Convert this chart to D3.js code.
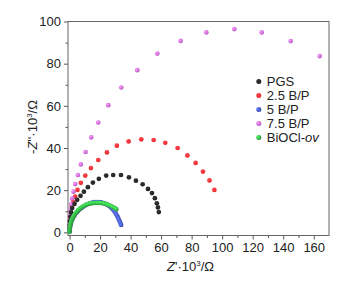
<!DOCTYPE html>
<html>
<head>
<meta charset="utf-8">
<script src="https://cdn.jsdelivr.net/npm/d3@7"></script>
<style>
  body { margin: 0; background: #fff; }
  svg { font-family: "Liberation Sans", Arial, sans-serif; }
</style>
</head>
<body>
<div id="chart"></div>
<script>
// Nyquist plots, values (x: Z' 10^3 ohm, y: -Z'' 10^3 ohm)
const pgsX = [0, 0.1, 0.3, 0.6, 1.0, 1.7, 3.3, 5.0, 7.2, 9.4, 12.0, 15.3, 19.2, 24.0, 28.6, 33.7, 38.9, 43.5, 47.9, 51.4, 54.0, 55.9, 57.2, 57.9, 58.5];
const pgsY = [1.5, 3.5, 5.5, 7.5, 9.5, 11.5, 13.5, 15.4, 17.3, 19.3, 21.4, 23.6, 25.4, 26.9, 27.2, 27.2, 26.1, 24.5, 22.8, 20.6, 18.6, 16.2, 13.8, 11.8, 9.6];

const bp25X = [0, 0, 0.2, 0.4, 0.9, 1.5, 2.4, 3.7, 5.2, 7.4, 10.3, 14.0, 18.8, 24.5, 31.0, 38.7, 47.0, 55.1, 62.7, 70.8, 77.2, 82.6, 87.4, 91.7, 94.9];
const bp25Y = [0.8, 2.7, 5.1, 7.4, 9.6, 12.2, 14.4, 16.9, 20.1, 23.5, 26.9, 30.5, 34.3, 37.9, 41.1, 43.1, 44.1, 43.8, 42.5, 40.0, 36.5, 32.9, 28.8, 24.6, 20.1];

const bp5X = [0, 0.1, 0.2, 0.5, 0.9, 1.4, 2.0, 2.7, 3.5, 4.5, 5.5, 6.7, 7.9, 9.2, 10.5, 11.9, 13.3, 14.8, 16.3, 17.8, 19.3, 20.8, 22.2, 23.6, 24.9, 26.1, 27.3, 28.3, 29.3, 30.2, 31.0, 31.7, 32.3, 32.9, 33.4, 33.8];
const bp5Y = [0.3, 1.0, 2.0, 3.2, 4.4, 5.5, 6.5, 7.5, 8.4, 9.3, 10.1, 10.9, 11.6, 12.3, 12.9, 13.4, 13.8, 14.1, 14.3, 14.4, 14.4, 14.2, 13.9, 13.5, 13.0, 12.4, 11.7, 10.9, 10.0, 9.1, 8.1, 7.1, 6.1, 5.1, 4.2, 3.5];

const bp75X = [0, 0, 0.2, 0.4, 0.7, 1.1, 1.7, 2.6, 3.7, 5.5, 7.4, 10.5, 14.2, 18.8, 25.4, 33.9, 44.4, 57.5, 72.8, 89.6, 108.0, 125.9, 144.9, 163.9];
const bp75Y = [0.8, 3.0, 5.5, 8.2, 10.9, 13.4, 16.1, 19.3, 22.9, 27.2, 32.2, 38.1, 45.0, 52.1, 60.3, 68.7, 76.9, 84.8, 90.8, 94.8, 96.4, 94.8, 90.7, 83.6];

const ovX = [0, 0.1, 0.3, 0.5, 0.8, 1.2, 1.7, 2.3, 3.0, 3.8, 4.7, 5.7, 6.8, 8.0, 9.3, 10.7, 12.1, 13.6, 15.1, 16.6, 18.1, 19.6, 21.1, 22.6, 24.0, 25.4, 26.8, 28.1, 29.4, 30.6];
const ovY = [0.3, 1.2, 2.2, 3.2, 4.2, 5.2, 6.2, 7.1, 8.0, 8.9, 9.7, 10.5, 11.2, 11.9, 12.5, 13.0, 13.4, 13.7, 13.9, 14.0, 14.0, 14.0, 13.9, 13.7, 13.4, 13.0, 12.6, 12.1, 11.6, 11.0];

const seriesNames = ["PGS", "2.5 B/P", "5 B/P", "7.5 B/P", "BiOCl-ov"];
const seriesColors = ["#1e1e1e", "#e8282c", "#3848ac", "#b858c4", "#2a9138"];
const xTicks = [0, 20, 40, 60, 80, 100, 120, 140, 160];
const yTicks = [0, 20, 40, 60, 80, 100];

const series = [
  { name: seriesNames[0], color: seriesColors[0], x: pgsX, y: pgsY },
  { name: seriesNames[1], color: seriesColors[1], x: bp25X, y: bp25Y },
  { name: seriesNames[2], color: seriesColors[2], x: bp5X, y: bp5Y },
  { name: seriesNames[3], color: seriesColors[3], x: bp75X, y: bp75Y },
  { name: seriesNames[4], color: seriesColors[4], x: ovX, y: ovY }
];

const width = 341, height = 282;
const margin = { top: 21.5, right: 12, bottom: 46.5, left: 68 };
const innerW = width - margin.left - margin.right;
const innerH = height - margin.top - margin.bottom;

const svg = d3.select("#chart").append("svg")
  .attr("width", width)
  .attr("height", height);

// sphere-like markers
const defs = svg.append("defs");
series.forEach((s, i) => {
  const g = defs.append("radialGradient")
    .attr("id", "ball" + i)
    .attr("cx", "35%").attr("cy", "35%").attr("r", "65%");
  g.append("stop").attr("offset", "0%").attr("stop-color", d3.color(s.color).brighter(1.6));
  g.append("stop").attr("offset", "100%").attr("stop-color", s.color);
});

const chart = svg.append("g")
  .attr("transform", `translate(${margin.left},${margin.top})`);

const x = d3.scaleLinear().domain([-1, 170]).range([0, innerW]);
const y = d3.scaleLinear().domain([-1.5, 100]).range([innerH, 0]);

// minor ticks
chart.append("g")
  .attr("transform", `translate(0,${innerH})`)
  .call(d3.axisBottom(x).tickValues(d3.range(10, 170, 20)).tickSize(2.5).tickFormat(""))
  .call(g => g.select(".domain").remove())
  .call(g => g.selectAll("line").attr("stroke", "#555"));
chart.append("g")
  .call(d3.axisLeft(y).tickValues(d3.range(10, 100, 20)).tickSize(2.5).tickFormat(""))
  .call(g => g.select(".domain").remove())
  .call(g => g.selectAll("line").attr("stroke", "#555"));

// major ticks
chart.append("g")
  .attr("transform", `translate(0,${innerH})`)
  .call(d3.axisBottom(x).tickValues(xTicks).tickSize(4).tickPadding(3))
  .call(g => g.select(".domain").remove())
  .call(g => g.selectAll("line").attr("stroke", "#555"))
  .call(g => g.selectAll("text").attr("fill", "#222").style("font-size", "13px").style("font-family", "Liberation Sans, Arial, sans-serif"));
chart.append("g")
  .call(d3.axisLeft(y).tickValues(yTicks).tickSize(4).tickPadding(3))
  .call(g => g.select(".domain").remove())
  .call(g => g.selectAll("line").attr("stroke", "#555"))
  .call(g => g.selectAll("text").attr("fill", "#222").style("font-size", "13px").style("font-family", "Liberation Sans, Arial, sans-serif"));

// frame
chart.append("rect")
  .attr("width", innerW)
  .attr("height", innerH)
  .attr("fill", "none")
  .attr("stroke", "#666")
  .attr("stroke-width", 1);

// points
const drawOrder = [1, 3, 0, 2, 4];
drawOrder.forEach(i => {
  const s = series[i];
  chart.append("g").selectAll("circle")
    .data(s.x.map((v, k) => [v, s.y[k]]))
    .enter()
    .append("circle")
    .attr("cx", d => x(d[0]))
    .attr("cy", d => y(d[1]))
    .attr("r", 2.35)
    .attr("fill", `url(#ball${i})`);
});

// legend
const legend = chart.append("g")
  .attr("transform", `translate(${x(124)},${y(71.5)})`);
series.forEach((s, i) => {
  const row = legend.append("g").attr("transform", `translate(0,${i * 14})`);
  row.append("circle")
    .attr("r", 2.5)
    .attr("fill", `url(#ball${i})`);
  const t = row.append("text")
    .attr("x", 8)
    .attr("y", 4.6)
    .attr("fill", "#222")
    .style("font-size", "13px");
  if (s.name === "BiOCl-ov") {
    t.append("tspan").text("BiOCl-");
    t.append("tspan").style("font-style", "italic").text("ov");
  } else {
    t.text(s.name);
  }
});

// axis titles
const xt = svg.append("text")
  .attr("x", margin.left + innerW / 2 - 8)
  .attr("y", 271)
  .attr("text-anchor", "middle")
  .attr("fill", "#222")
  .style("font-size", "13px");
xt.append("tspan").style("font-style", "italic").text("Z");
xt.append("tspan").text("'·10");
xt.append("tspan").attr("dy", -5).style("font-size", "8px").text("3");
xt.append("tspan").attr("dy", 5).text("/Ω");

const yt = svg.append("text")
  .attr("transform", "rotate(-90)")
  .attr("x", -127)
  .attr("y", 37)
  .attr("text-anchor", "middle")
  .attr("fill", "#222")
  .style("font-size", "13px");
yt.append("tspan").text("-");
yt.append("tspan").style("font-style", "italic").text("Z");
yt.append("tspan").text("''·10");
yt.append("tspan").attr("dy", -5).style("font-size", "8px").text("3");
yt.append("tspan").attr("dy", 5).text("/Ω");
</script>
</body>
</html>
